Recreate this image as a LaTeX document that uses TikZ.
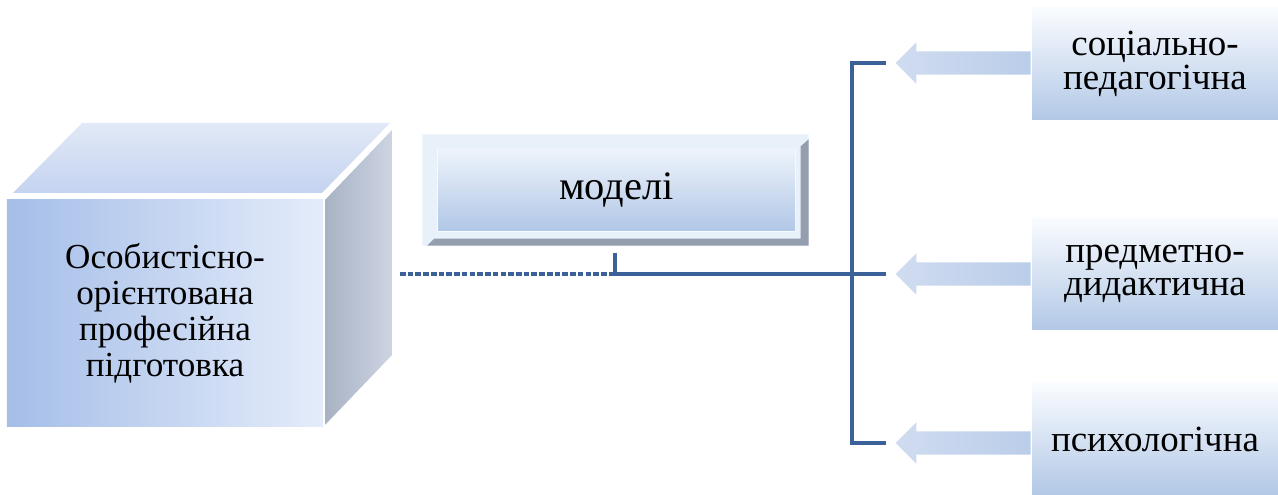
\documentclass[tikz,border=0pt]{standalone}
\usepackage{fontspec}
\setmainfont{Liberation Serif}
\usetikzlibrary{shapes.arrows,positioning}

\definecolor{linkblue}{RGB}{58,98,152}
\definecolor{frontleft}{RGB}{165,190,232}
\definecolor{frontright}{RGB}{228,236,250}
\definecolor{topback}{RGB}{226,233,247}
\definecolor{topfront}{RGB}{196,211,240}
\definecolor{sideleft}{RGB}{168,178,196}
\definecolor{sideright}{RGB}{205,212,226}
\definecolor{paneltop}{RGB}{238,243,251}
\definecolor{panelbottom}{RGB}{176,199,230}
\definecolor{framecol}{RGB}{232,240,250}
\definecolor{bevelcol}{RGB}{148,158,174}
\definecolor{arrowleft}{RGB}{208,220,240}
\definecolor{arrowright}{RGB}{186,205,233}
\definecolor{kindtop}{RGB}{250,252,255}
\definecolor{kindbottom}{RGB}{178,200,230}

\tikzset{
  link/.style={draw=linkblue, line width=1.2pt},
  cubefront/.style={minimum width=3.16cm, minimum height=2.27cm, inner sep=0pt,
    left color=frontleft, right color=frontright, align=center,
    font=\fontsize{10}{10.3}\selectfont},
  modelbox/.style={minimum width=3.57cm, minimum height=0.82cm, inner sep=0pt,
    top color=paneltop, bottom color=panelbottom, font=\fontsize{11.5}{12}\selectfont},
  kindbox/.style={minimum width=2.46cm, minimum height=1.12cm, inner sep=0pt,
    top color=kindtop, bottom color=kindbottom, align=center,
    font=\fontsize{10.5}{9.5}\selectfont},
  flowarrow/.style={single arrow, shape border rotate=180, inner sep=0.11cm,
    minimum height=1.35cm, single arrow head extend=0.09cm,
    left color=arrowleft, right color=arrowright, anchor=tail}
}

\begin{document}
\begin{tikzpicture}
  \useasboundingbox (0,0) rectangle (12.78,-4.95);

  % cube
  \node[cubefront] (prep) at (1.65,-3.135)
    {Особистісно-\\орієнтована\\професійна\\підготовка};
  \shade[top color=topback, bottom color=topfront]
    (0.13,-1.93) -- (0.82,-1.23) -- (3.90,-1.23) -- (3.22,-1.93) -- cycle;
  \shade[left color=sideleft, right color=sideright]
    (3.25,-2.00) -- (3.92,-1.30) -- (3.92,-3.55) -- (3.25,-4.25) -- cycle;

  % middle panel
  \node[modelbox] (model) at (6.165,-1.90) {моделі};
  \fill[framecol, even odd rule]
    ([shift={(-0.15,0.14)}]model.north west) rectangle ([shift={(0.13,-0.14)}]model.south east)
    (model.north west) rectangle (model.south east);
  \fill[bevelcol]
    ([shift={(0.13,0.09)}]model.north east) -- ([shift={(0.13,-0.14)}]model.south east)
    -- ([shift={(-0.10,-0.14)}]model.south west) -- ([shift={(-0.03,-0.07)}]model.south west)
    -- ([shift={(0.05,-0.07)}]model.south east) -- ([shift={(0.05,0.02)}]model.north east) -- cycle;

  % kinds on the right
  \node[kindbox] (soc) at (11.55,-0.64) {соціально-\\педагогічна};
  \node[kindbox] (pred) at (11.55,-2.74) {предметно-\\дидактична};
  \node[kindbox] (psy) at (11.55,-4.39) {психологічна};

  \foreach \kind/\dy in {soc/0.01,pred/0,psy/-0.04}{
    \node[flowarrow] (\kind arrow) at ([yshift=\dy cm]\kind.west) {};
  }

  % connectors
  \coordinate (start) at (4.00,-2.74);
  \coordinate (junction) at (6.15,-2.74);
  \coordinate (hub) at (8.52,-2.74);
  \draw[link, dash pattern=on 1.6pt off 0.6pt] (start) -- (junction);
  \draw[link] ([yshift=-0.21cm]model.south -| junction) -- (junction) -- (hub)
    -- ([xshift=-0.09cm]predarrow.tip);
  \draw[link, line width=1.4pt] ([xshift=-0.09cm]socarrow.tip) -| (hub);
  \draw[link, line width=1.4pt] ([xshift=-0.09cm]psyarrow.tip) -| (hub);
\end{tikzpicture}
\end{document}
